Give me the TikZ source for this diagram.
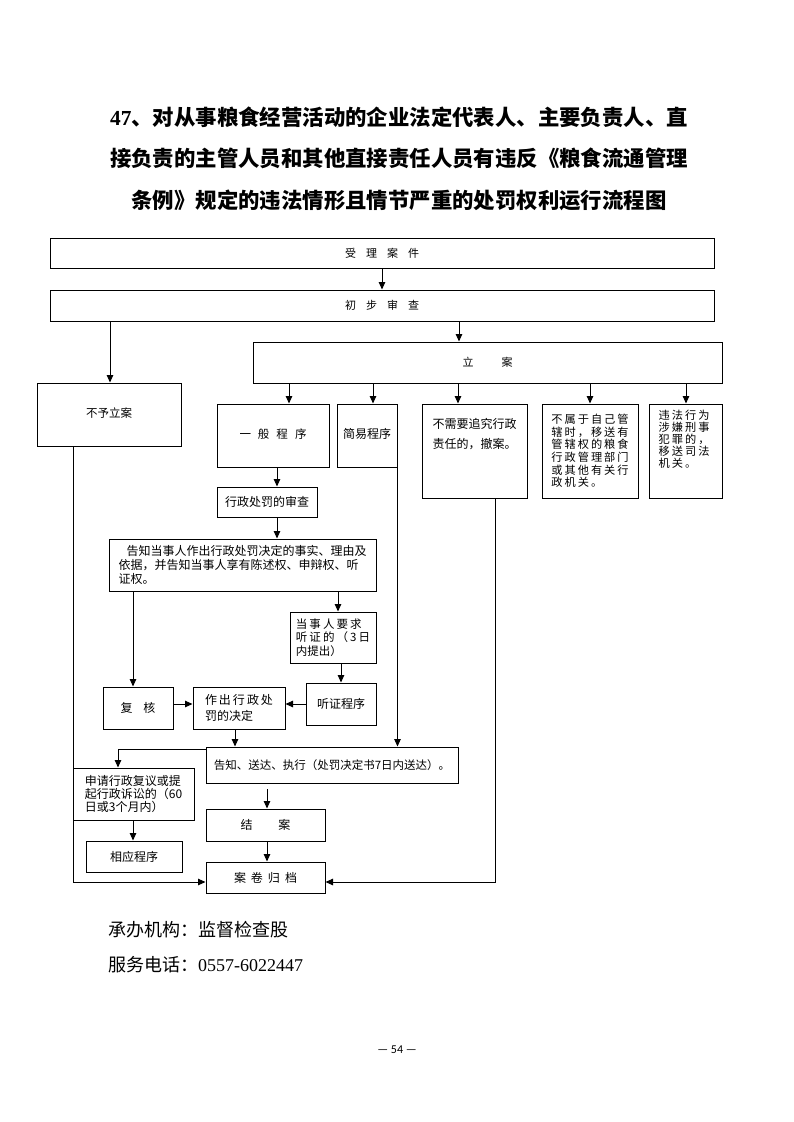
\documentclass[tikz,border=0pt]{standalone}
\usepackage{fontspec}
\setmainfont{Liberation Serif}
\newfontfamily\cjk{Noto Sans CJK SC}
\newfontfamily\cjkls[LetterSpace=18]{Noto Sans CJK SC}
\newfontfamily\pagefont{Carlito}
\usetikzlibrary{arrows.meta,calc}

\tikzset{
  box/.style={draw,line width=1pt,inner sep=0pt,align=center,font=\cjk\fontsize{12}{13}\selectfont},
  txt/.style={inner sep=0pt,align=left,font=\cjk\fontsize{12}{13}\selectfont},
  arr/.style={line width=1pt,-{Triangle[length=7.5pt,width=6.5pt]}},
  ln/.style={line width=1pt}
}

\begin{document}
\begin{tikzpicture}[line cap=butt,line join=miter,x=1pt,y=-1pt]
  \useasboundingbox (0,0) rectangle (793,1122);

  % title
  \node[inner sep=0pt,align=center,font=\cjk\bfseries\fontsize{21.4}{41.5}\selectfont] (title) at (399,158.5)
    {{\rmfamily\bfseries 47}、对从事粮食经营活动的企业法定代表人、主要负责人、直\\
     接负责的主管人员和其他直接责任人员有违反《粮食流通管理\\
     条例》规定的违法情形且情节严重的处罚权利运行流程图};

  % boxes
  \node[box,minimum width=664,minimum height=30,font=\cjk\fontsize{11}{13}\selectfont] (shouli) at (382,253)
    {受\hspace{10pt}理\hspace{10pt}案\hspace{10pt}件};
  \node[box,minimum width=664,minimum height=31,font=\cjk\fontsize{11}{13}\selectfont] (chubu) at (382,305.5)
    {初\hspace{10pt}步\hspace{10pt}审\hspace{10pt}查};
  \node[box,minimum width=469,minimum height=41,font=\cjk\fontsize{11}{13}\selectfont] (lian) at (487.5,362.5)
    {立\hspace{28pt}案};
  \node[box,minimum width=144,minimum height=63,font=\cjk\fontsize{11.5}{13}\selectfont] (buyu) at (109,414.5)
    {不予立案\rule[-4pt]{0pt}{1pt}};
  \node[box,minimum width=112,minimum height=63,font=\cjk\fontsize{11.5}{13}\selectfont] (yiban) at (273,435.5)
    {一\hspace{7pt}般\hspace{7pt}程\hspace{7pt}序\rule[-4pt]{0pt}{1pt}};
  \node[box,minimum width=60,minimum height=63] (jianyi) at (367,435.5)
    {简易程序\rule[-4pt]{0pt}{1pt}};
  \node[box,minimum width=105,minimum height=94] (chexiao) at (474.5,451) {};
  \node[txt,anchor=north west,font=\cjk\fontsize{12}{20}\selectfont] (chexiao-t)
    at ([xshift=11pt,yshift=-15pt]chexiao.north west) {不需要追究行政\\责任的，撤案。};
  \node[box,minimum width=96,minimum height=94,align=left,font=\cjkls\fontsize{11.2}{12.6}\selectfont] (yisong) at (590,451)
    {不属于自己管\\辖时，移送有\\管辖权的粮食\\行政管理部门\\或其他有关行\\政机关。};
  \node[box,minimum width=73,minimum height=94] (sifa) at (685.5,451) {};
  \node[txt,anchor=north west,font=\cjkls\fontsize{11.2}{12}\selectfont] (sifa-t)
    at ([xshift=10pt,yshift=-6pt]sifa.north west) {违法行为\\涉嫌刑事\\犯罪的，\\移送司法\\机关。};

  \node[box,minimum width=100,minimum height=30] (shencha) at (267,502) {行政处罚的审查};
  \node[box,minimum width=267,minimum height=52,align=left,font=\cjk\fontsize{12}{14}\selectfont] (gaozhi) at (242.5,565)
    {\hspace{8pt}告知当事人作出行政处罚决定的事实、理由及\\依据，并告知当事人享有陈述权、申辩权、听\\证权。};
  \node[box,minimum width=86,minimum height=51,align=left,font=\cjk\fontsize{11.5}{13.5}\selectfont] (tingzhengyq) at (333,637.5)
    {{\cjkls 当事人要求}\\{\cjkls 听证的（3日}\\内提出）};
  \node[box,minimum width=70,minimum height=42] (tingzheng) at (341,704) {听证程序};
  \node[box,minimum width=70,minimum height=42] (fuhe) at (138,708) {复\hspace{11pt}核};
  \node[box,minimum width=92,minimum height=42,align=left,font=\cjk\fontsize{12}{16}\selectfont] (zuochu) at (239,708)
    {作\hspace{2pt}出\hspace{2pt}行\hspace{2pt}政\hspace{2pt}处\\罚的决定};
  \node[box,minimum width=252,minimum height=36,font=\cjk\fontsize{11.5}{13}\selectfont] (songda) at (332,765)
    {告知、送达、执行（处罚决定书7日内送达）。};
  \node[box,minimum width=121,minimum height=52,align=left,font=\cjk\fontsize{12}{12.8}\selectfont] (shenqing) at (133.5,794)
    {申请行政复议或提\\起行政诉讼的（60\\日或3个月内）};
  \node[box,minimum width=96,minimum height=31] (xiangying) at (134,856.5) {相应程序};
  \node[box,minimum width=119,minimum height=32] (jiean) at (265.5,825) {结\hspace{26pt}案};
  \node[box,minimum width=119,minimum height=31] (guidang) at (265.5,877.5)
    {案\hspace{5pt}卷\hspace{5pt}归\hspace{5pt}档};

  % columns for the connectors
  \foreach \c in {73,110,118,133,235,267,277,289,338,341,373,458,459,495,590,686}
    \coordinate (x\c) at (\c,0);
  \coordinate (jiean-in) at (267,789);

  % connectors
  \draw[arr] (shouli.south) -- (chubu.north);
  \draw[arr] (x110 |- chubu.south) -- (x110 |- buyu.north);
  \draw[arr] (x459 |- chubu.south) -- (x459 |- lian.north);
  \foreach \c/\t in {289/yiban,373/jianyi,458/chexiao,590/yisong,686/sifa}
    \draw[arr] (x\c |- lian.south) -- (x\c |- \t.north);
  \draw[arr] (x277 |- yiban.south) -- (x277 |- shencha.north);
  \draw[arr] (x277 |- shencha.south) -- (x277 |- gaozhi.north);
  \draw[arr] (x133 |- gaozhi.south) -- (x133 |- fuhe.north);
  \draw[arr] (x338 |- gaozhi.south) -- (x338 |- tingzhengyq.north);
  \draw[arr] (x341 |- tingzhengyq.south) -- (x341 |- tingzheng.north);
  \draw[arr] ([yshift=4pt]fuhe.east) -- ([yshift=4pt]zuochu.west);
  \draw[arr] (tingzheng.west) -- (zuochu.east |- tingzheng.west);
  \draw[arr] (x235 |- zuochu.south) -- (x235 |- songda.north);
  \draw[arr] (jianyi.south east) -- (jianyi.south east |- songda.north);
  \draw[arr] ([yshift=-3pt]songda.north west) -| (x118 |- shenqing.north);
  \draw[arr] (x133 |- shenqing.south) -- (x133 |- xiangying.north);
  \draw[arr] (jiean-in) -- (x267 |- jiean.north);
  \draw[arr] (x267 |- jiean.south) -- (x267 |- guidang.north);
  \draw[arr] (x73 |- buyu.south) |- ([yshift=-4.5pt]guidang.west);
  \draw[arr] (x495 |- chexiao.south) |- ([yshift=-4.5pt]guidang.east);

  % footer
  \node[inner sep=0pt,anchor=west,font=\cjk\fontsize{18}{20}\selectfont] (jigou) at (108,930)
    {承办机构：监督检查股};
  \node[inner sep=0pt,anchor=west,font=\cjk\fontsize{18}{20}\selectfont] (dianhua) at (108,965)
    {服务电话：{\rmfamily 0557-6022447}};
  \node[inner sep=0pt,font=\pagefont\fontsize{12}{13}\selectfont] (yema) at (397,1050) {— 54 —};
\end{tikzpicture}
\end{document}
